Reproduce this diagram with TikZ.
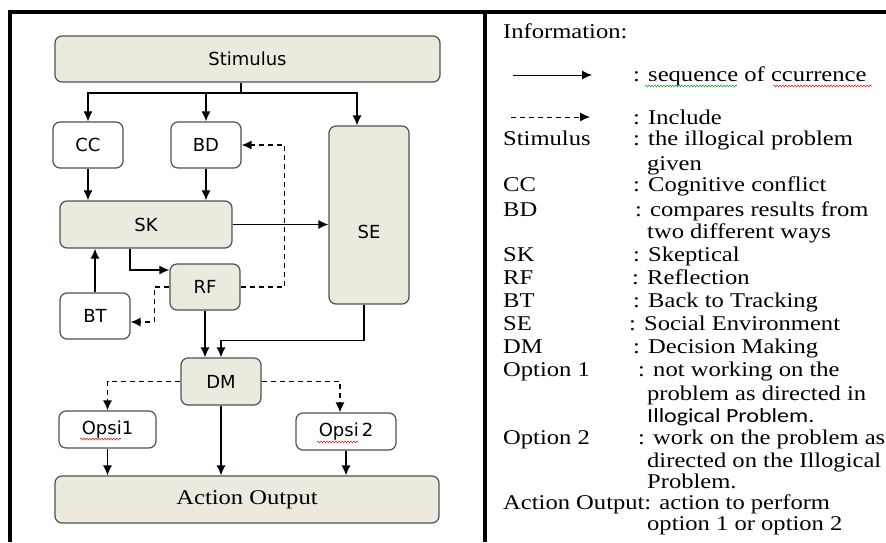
\documentclass[tikz,border=0pt]{standalone}
\usepackage{fontspec}
\newfontfamily\legendfont{Liberation Serif}[FakeStretch=1.17]
\newfontfamily\boxfont{DejaVu Sans}
\newfontfamily\calfont{Carlito}[FakeStretch=1.2]
\usetikzlibrary{arrows.meta,decorations.pathmorphing}
\definecolor{boxfill}{RGB}{236,233,222}
\definecolor{boxline}{RGB}{80,80,80}
\definecolor{spellred}{RGB}{230,40,40}
\definecolor{spellgreen}{RGB}{40,160,60}
\tikzset{
  stage/.style={draw=boxline, line width=1.2pt, rounded corners=7pt, fill=boxfill,
    font=\boxfont\fontsize{18}{22}\selectfont},
  plain/.style={stage, fill=white},
  flow/.style={line width=1.3pt, -{Latex[length=10pt,width=9pt]}},
  incl/.style={flow, dash pattern=on 5pt off 4pt},
  key/.style={anchor=base west, inner sep=0pt, font=\legendfont\fontsize{21}{25}\selectfont},
  squig/.style={decorate, decoration={snake, amplitude=0.9pt, segment length=3pt}, line width=0.6pt}
}

\begin{document}
\begin{tikzpicture}[x=1pt,y=-1pt]
        \useasboundingbox (0,0) rectangle (886,542);
        % Frame
        \draw [line width=4pt] (10,542) |- (886,12);
        \draw [line width=3.5pt] (485,12) -- (485,542);

        % Boxes
        \node [stage, minimum width=385, minimum height=46] (stim) at (247.5,59) {Stimulus};
        \node [plain, minimum width=70, minimum height=46] (cc) at (88,145) {CC};
        \node [plain, minimum width=70, minimum height=46] (bd) at (206,145) {BD};
        \node [stage, minimum width=80, minimum height=178,
               label={[font=\boxfont\fontsize{18}{22}\selectfont, yshift=-17pt]center:SE}] (se) at (369,215) {};
        \node [stage, minimum width=172, minimum height=47] (sk) at (146,224.5) {SK};
        \node [stage, minimum width=70, minimum height=46] (rf) at (205,287) {RF};
        \node [plain, minimum width=70, minimum height=46] (bt) at (95,316) {BT};
        \node [stage, minimum width=80, minimum height=47] (dm) at (221,381.5) {DM};
        \node [plain, minimum width=97, minimum height=37] (opsa) at (107.5,429.5) {Opsi1};
        \node [plain, minimum width=100, minimum height=37] (opsb) at (346,431.5) {Opsi\,2};
        \node [stage, minimum width=384, minimum height=47,
               font=\legendfont\fontsize{21}{25}\selectfont] (ao) at (247,499.5) {Action Output};

        % Connectors
        \coordinate (fork) at (241,93);
        \draw [line width=1.3pt] (stim.south -| fork) -- (fork);
        \draw [flow] (fork) -| (cc.north);
        \draw [flow] (fork) -| (bd.north);
        \draw [flow] (fork) -| ([xshift=-12pt]se.north);
        \draw [flow] (cc.south) -- (cc.south |- sk.north);
        \draw [flow] (bd.south) -- (bd.south |- sk.north);
        \draw [flow] (sk.east) -- (sk.east -| se.west);
        \draw [flow] ([xshift=-16pt]sk.south) |- ([yshift=17pt]rf.west);
        \draw [incl] (rf.east) -- ++(44,0) |- (bd.east);
        \draw [incl] (rf.west) -- ++(-15,0) |- ([yshift=-6pt]bt.east);
        \draw [flow] (bt.north) -- (bt.north |- sk.south);
        \draw [flow] (rf.south) -- (rf.south |- dm.north);
        \draw [flow] ([xshift=-5pt]se.south) -- ++(0,36) -| (dm.north);
        \draw [incl] (dm.west) -| (opsa.north);
        \draw [incl] (dm.east) -| ([xshift=-6pt]opsb.north);
        \draw [flow] (opsa.south) -- (opsa.south |- ao.north);
        \draw [flow] (dm.south) -- (dm.south |- ao.north);
        \draw [flow] (opsb.south) -- (opsb.south |- ao.north);
        \draw [squig, spellred] (80,439) -- (121,439);
        \draw [squig, spellred] (317,442) -- (358,442);

        % Legend
        \node [key] (info) at (503,38) {Information:};
        \coordinate (seqa) at (513,75);
        \coordinate (seqb) at (592,75);
        \draw [flow, line width=1pt] (seqa) -- (seqb);
        \node [key] (seqtxt) at (633,81) {: sequence of ccurrence};
        \draw [squig, spellgreen] (645,86) -- (737,86);
        \draw [squig, spellred] (773,86) -- (872,86);
        \coordinate (inca) at (511,117);
        \coordinate (incb) at (590,117);
        \draw [incl, line width=1pt] (inca) -- (incb);
        \node [key] (inctxt) at (633,124) {: Include};

        \node [key] (kstim) at (503,145) {Stimulus};
        \node [key] (dstim) at (633,145) {: the illogical problem};
        \node [key] (dstimb) at (647,170) {given};
        \node [key] (kcc) at (503,191) {CC};
        \node [key] (dcc) at (633,191) {: Cognitive conflict};
        \node [key] (kbd) at (503,216) {BD};
        \node [key] (dbd) at (635,216) {: compares results from};
        \node [key] (dbdb) at (647,238) {two different ways};
        \node [key] (ksk) at (503,261) {SK};
        \node [key] (dsk) at (633,261) {: Skeptical};
        \node [key] (krf) at (503,284) {RF};
        \node [key] (drf) at (632,284) {: Reflection};
        \node [key] (kbt) at (503,307) {BT};
        \node [key] (dbt) at (633,307) {: Back to Tracking};
        \node [key] (kse) at (503,330) {SE};
        \node [key] (dse) at (629,330) {: Social Environment};
        \node [key] (kdm) at (503,353) {DM};
        \node [key] (ddm) at (633,353) {: Decision Making};
        \node [key] (kopa) at (503,376) {Option 1};
        \node [key] (dopa) at (638,376) {: not working on the};
        \node [key] (dopab) at (647,400) {problem as directed in};
        \node [key, font=\calfont\fontsize{20}{24}\selectfont] (dopac) at (647,422) {Illogical Problem.};
        \node [key] (kopb) at (503,444) {Option 2};
        \node [key] (dopb) at (638,444) {: work on the problem as};
        \node [key] (dopbb) at (647,467) {directed on the Illogical};
        \node [key] (dopbc) at (647,488) {Problem.};
        \node [key] (kao) at (503,509) {Action Output: action to perform};
        \node [key] (daob) at (647,530) {option 1 or option 2};
\end{tikzpicture}
\end{document}
